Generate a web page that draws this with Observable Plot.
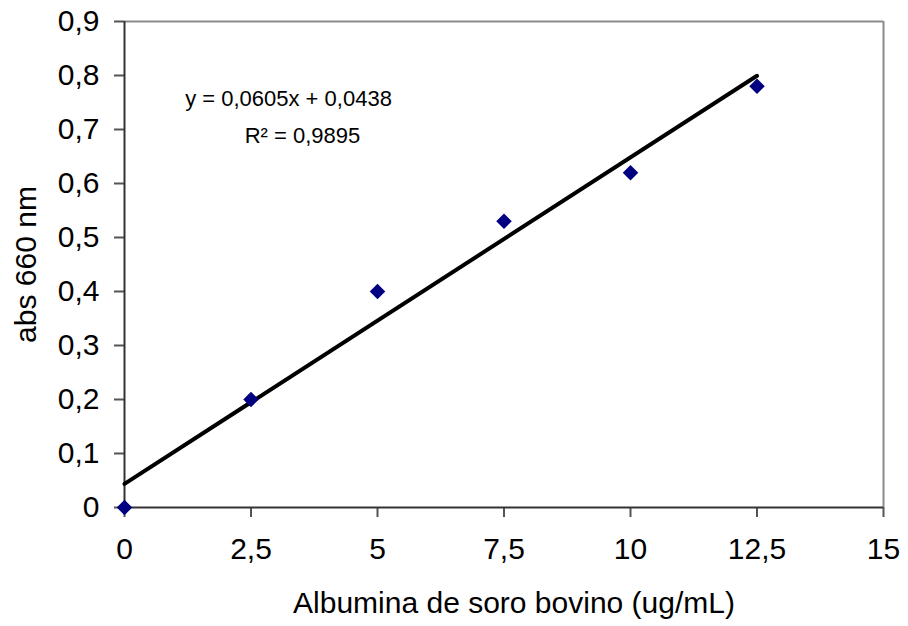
<!DOCTYPE html>
<html>
<head>
<meta charset="utf-8">
<script src="https://cdn.jsdelivr.net/npm/d3@7"></script>
<script src="https://cdn.jsdelivr.net/npm/@observablehq/plot@0.6"></script>
<style>
  html, body { margin: 0; padding: 0; background: #fff; }
  #chart { width: 908px; height: 626px; }
  svg { font-family: "Liberation Sans", Arial, sans-serif; }
</style>
</head>
<body>
<div id="chart"></div>
<script>
const concentration = [0, 2.5, 5, 7.5, 10, 12.5];
const absorbance = [0, 0.2, 0.4, 0.53, 0.62, 0.78];
const xTicks = [0, 2.5, 5, 7.5, 10, 12.5, 15];
const xTickLabels = ["0", "2,5", "5", "7,5", "10", "12,5", "15"];
const yTicks = [0, 0.1, 0.2, 0.3, 0.4, 0.5, 0.6, 0.7, 0.8, 0.9];
const yTickLabels = ["0", "0,1", "0,2", "0,3", "0,4", "0,5", "0,6", "0,7", "0,8", "0,9"];
const xTitle = "Albumina de soro bovino (ug/mL)";
const yTitle = "abs 660 nm";
const equationText = "y = 0,0605x + 0,0438";
const r2Text = "R² = 0,9895";

const data = concentration.map((x, i) => ({x, y: absorbance[i]}));
const xFmt = new Map(xTicks.map((t, i) => [t, xTickLabels[i]]));
const yFmt = new Map(yTicks.map((t, i) => [t, yTickLabels[i]]));

const chart = Plot.plot({
  width: 908,
  height: 626,
  marginLeft: 124,
  marginRight: 25,
  marginTop: 21,
  marginBottom: 119,
  style: {fontFamily: "'Liberation Sans', Arial, sans-serif", fontSize: "30px", background: "#fff"},
  x: {domain: [0, 15]},
  y: {domain: [0, 0.9]},
  marks: [
    Plot.ruleY([0.9], {stroke: "#8c8c8c", strokeWidth: 2}),
    Plot.ruleX([15], {stroke: "#8c8c8c", strokeWidth: 2}),
    Plot.axisX({ticks: xTicks, tickFormat: d => xFmt.get(d), tickSize: 10, tickPadding: 20, fontSize: 30, stroke: "#555", strokeWidth: 2, color: "#000", label: null}),
    Plot.axisY({ticks: yTicks, tickFormat: d => yFmt.get(d), tickSize: 10, tickPadding: 15, fontSize: 30, stroke: "#555", strokeWidth: 2, color: "#000", label: null}),
    Plot.ruleX([0], {stroke: "#333", strokeWidth: 2}),
    Plot.ruleY([0], {stroke: "#333", strokeWidth: 2}),
    Plot.linearRegressionY(data, {x: "x", y: "y", ci: 0, stroke: "#000", strokeWidth: 4}),
    Plot.dot(data, {x: "x", y: "y", symbol: "diamond2", r: 7, fill: "#000080", stroke: "none"}),
    Plot.text([equationText], {frameAnchor: "top-left", dx: 164, dy: 77, textAnchor: "middle", lineAnchor: "middle", fontSize: 22, fill: "#000"}),
    Plot.text([r2Text], {frameAnchor: "top-left", dx: 178, dy: 114, textAnchor: "middle", lineAnchor: "middle", fontSize: 22, fill: "#000"}),
    Plot.text([xTitle], {frameAnchor: "bottom", dx: 10, dy: 96, textAnchor: "middle", lineAnchor: "middle", fontSize: 30, fill: "#000"}),
    Plot.text([yTitle], {frameAnchor: "left", dx: -98, rotate: -90, textAnchor: "middle", lineAnchor: "middle", fontSize: 30, fill: "#000"})
  ]
});
document.getElementById("chart").appendChild(chart);
</script>
</body>
</html>
